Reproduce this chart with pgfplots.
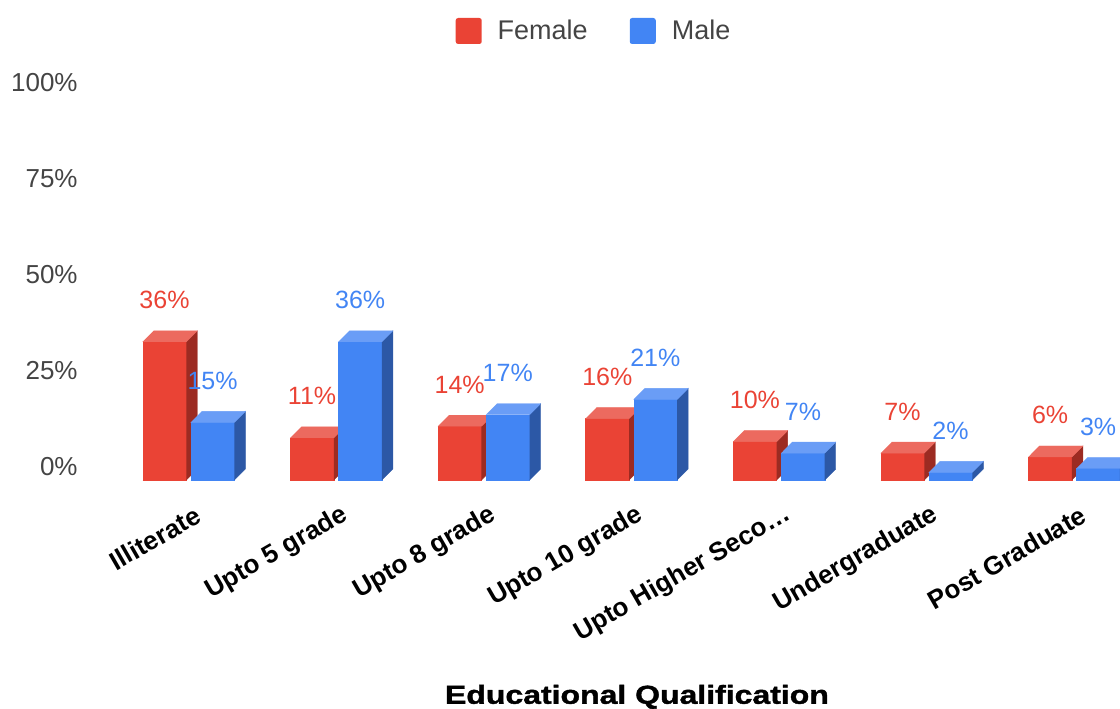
\documentclass[border=0pt]{standalone}
\usepackage{fontspec}
\setmainfont{Liberation Sans}
\newfontface\titlefont[FakeBold=1.5, FakeStretch=1.23]{Liberation Sans Bold}
\usepackage{pgfplots}
\usepackage{pgfplotstable}
\pgfplotsset{compat=1.18}

\definecolor{femfront}{HTML}{EA4335}
\definecolor{femtop}{HTML}{EC6A5F}
\definecolor{femside}{HTML}{9C2B22}
\definecolor{malefront}{HTML}{4285F4}
\definecolor{maletop}{HTML}{6A9DF6}
\definecolor{maleside}{HTML}{2C58A6}
\definecolor{ticktext}{HTML}{444444}

% share of respondents (%) per qualification
\pgfplotstableread{
idx female male
0 36 15
1 11 36
2 14 17
3 16 21
4 10 7
5 7 2
6 6 3
}\edudata

% depth of the 3D boxes: in category units (x) and percent (y)
\def\dX{0.0745}
\def\dY{2.865}

% #1 left edge, #2 right edge, #3 value, #4 front, #5 top, #6 side colour
\newcommand\drawbox[6]{%
  \pgfmathsetmacro\xl{#1}\pgfmathsetmacro\xr{#2}%
  \pgfmathsetmacro\xa{\xr+\dX}\pgfmathsetmacro\xb{\xl+\dX}%
  \pgfmathsetmacro\vv{#3}\pgfmathsetmacro\vt{#3+\dY}%
  \edef\doplot{%
    \noexpand\addplot[fill=#4, draw=#4, line width=0.2pt, forget plot]
      coordinates {(\xl,0) (\xr,0) (\xr,\vv) (\xl,\vv)};
    \noexpand\addplot[fill=#6, draw=#6, line width=0.2pt, forget plot]
      coordinates {(\xr,0) (\xa,\dY) (\xa,\vt) (\xr,\vv)};
    \noexpand\addplot[fill=#5, draw=#5, line width=0.2pt, forget plot]
      coordinates {(\xl,\vv) (\xr,\vv) (\xa,\vt) (\xb,\vt)};
  }\doplot
}

\begin{document}
\begin{tikzpicture}
\useasboundingbox (0,0) rectangle (560pt,354pt);
\begin{axis}[
  at={(45pt,114pt)}, anchor=south west,
  scale only axis, width=515pt, height=225pt,
  xmin=-0.66734, xmax=6.31098,
  ymin=0, ymax=117.1875,
  axis line style={draw=none},
  tick style={draw=none},
  no markers,
  /pgf/number format/assume math mode=true,
  xtick={0,...,6},
  xticklabels={Illiterate, Upto 5 grade, Upto 8 grade, Upto 10 grade,
    Upto Higher Seco\ldots, Undergraduate, Post Graduate},
  xticklabel style={anchor=east, inner sep=0pt, xshift=5pt, yshift=-16.5pt,
    rotate=30, font=\fontsize{13pt}{15pt}\selectfont\bfseries, text=black},
  ytick={0,25,50,75,100},
  yticklabels={0\%,25\%,50\%,75\%,100\%},
  yticklabel style={anchor=east, inner sep=0pt, xshift=-6pt, yshift=6.5pt,
    font=\fontsize{13pt}{15pt}\selectfont, text=ticktext},
  xlabel={Educational Qualification},
  xlabel style={at={(axis description cs:0.531,-0.482)}, anchor=center,
    font=\fontsize{13pt}{15pt}\titlefont, text=black},
  legend style={at={(axis description cs:0.4903,0.9978)}, anchor=center,
    draw=none, fill=none, legend columns=2,
    font=\fontsize{13.5pt}{15pt}\selectfont, text=ticktext,
    /tikz/every even column/.append style={column sep=19pt},
    legend cell align=left},
  legend image code/.code={%
    \fill[#1, rounded corners=1.2pt] (0pt,-6.5pt) rectangle (13pt,6.5pt);
    \path (19pt,0pt);},
  clip=true,
]
\addlegendimage{fill=femfront, draw=none}
\addlegendentry{Female}
\addlegendimage{fill=malefront, draw=none}
\addlegendentry{Male}

\pgfplotsinvokeforeach{0,...,6}{
  \pgfplotstablegetelem{#1}{female}\of\edudata
  \let\vf\pgfplotsretval
  \pgfplotstablegetelem{#1}{male}\of\edudata
  \let\vm\pgfplotsretval
  \drawbox{#1-0.3105}{#1-0.0150}{\vf}{femfront}{femtop}{femside}
  \drawbox{#1+0.0150}{#1+0.3105}{\vm}{malefront}{maletop}{maleside}
}

% value labels above the bars
\addplot[only marks, mark=none, forget plot, point meta=y,
  nodes near coords={\pgfmathprintnumber{\pgfplotspointmeta}\%},
  every node near coord/.append style={anchor=base, yshift=16.5pt,
    font=\fontsize{12.5pt}{14pt}\selectfont, text=femfront}]
  table[x expr=\thisrow{idx}-0.16275, y=female] {\edudata};
\addplot[only marks, mark=none, forget plot, point meta=y,
  nodes near coords={\pgfmathprintnumber{\pgfplotspointmeta}\%},
  every node near coord/.append style={anchor=base, yshift=16.5pt,
    font=\fontsize{12.5pt}{14pt}\selectfont, text=malefront}]
  table[x expr=\thisrow{idx}+0.16275, y=male] {\edudata};
\end{axis}
\end{tikzpicture}
\end{document}
